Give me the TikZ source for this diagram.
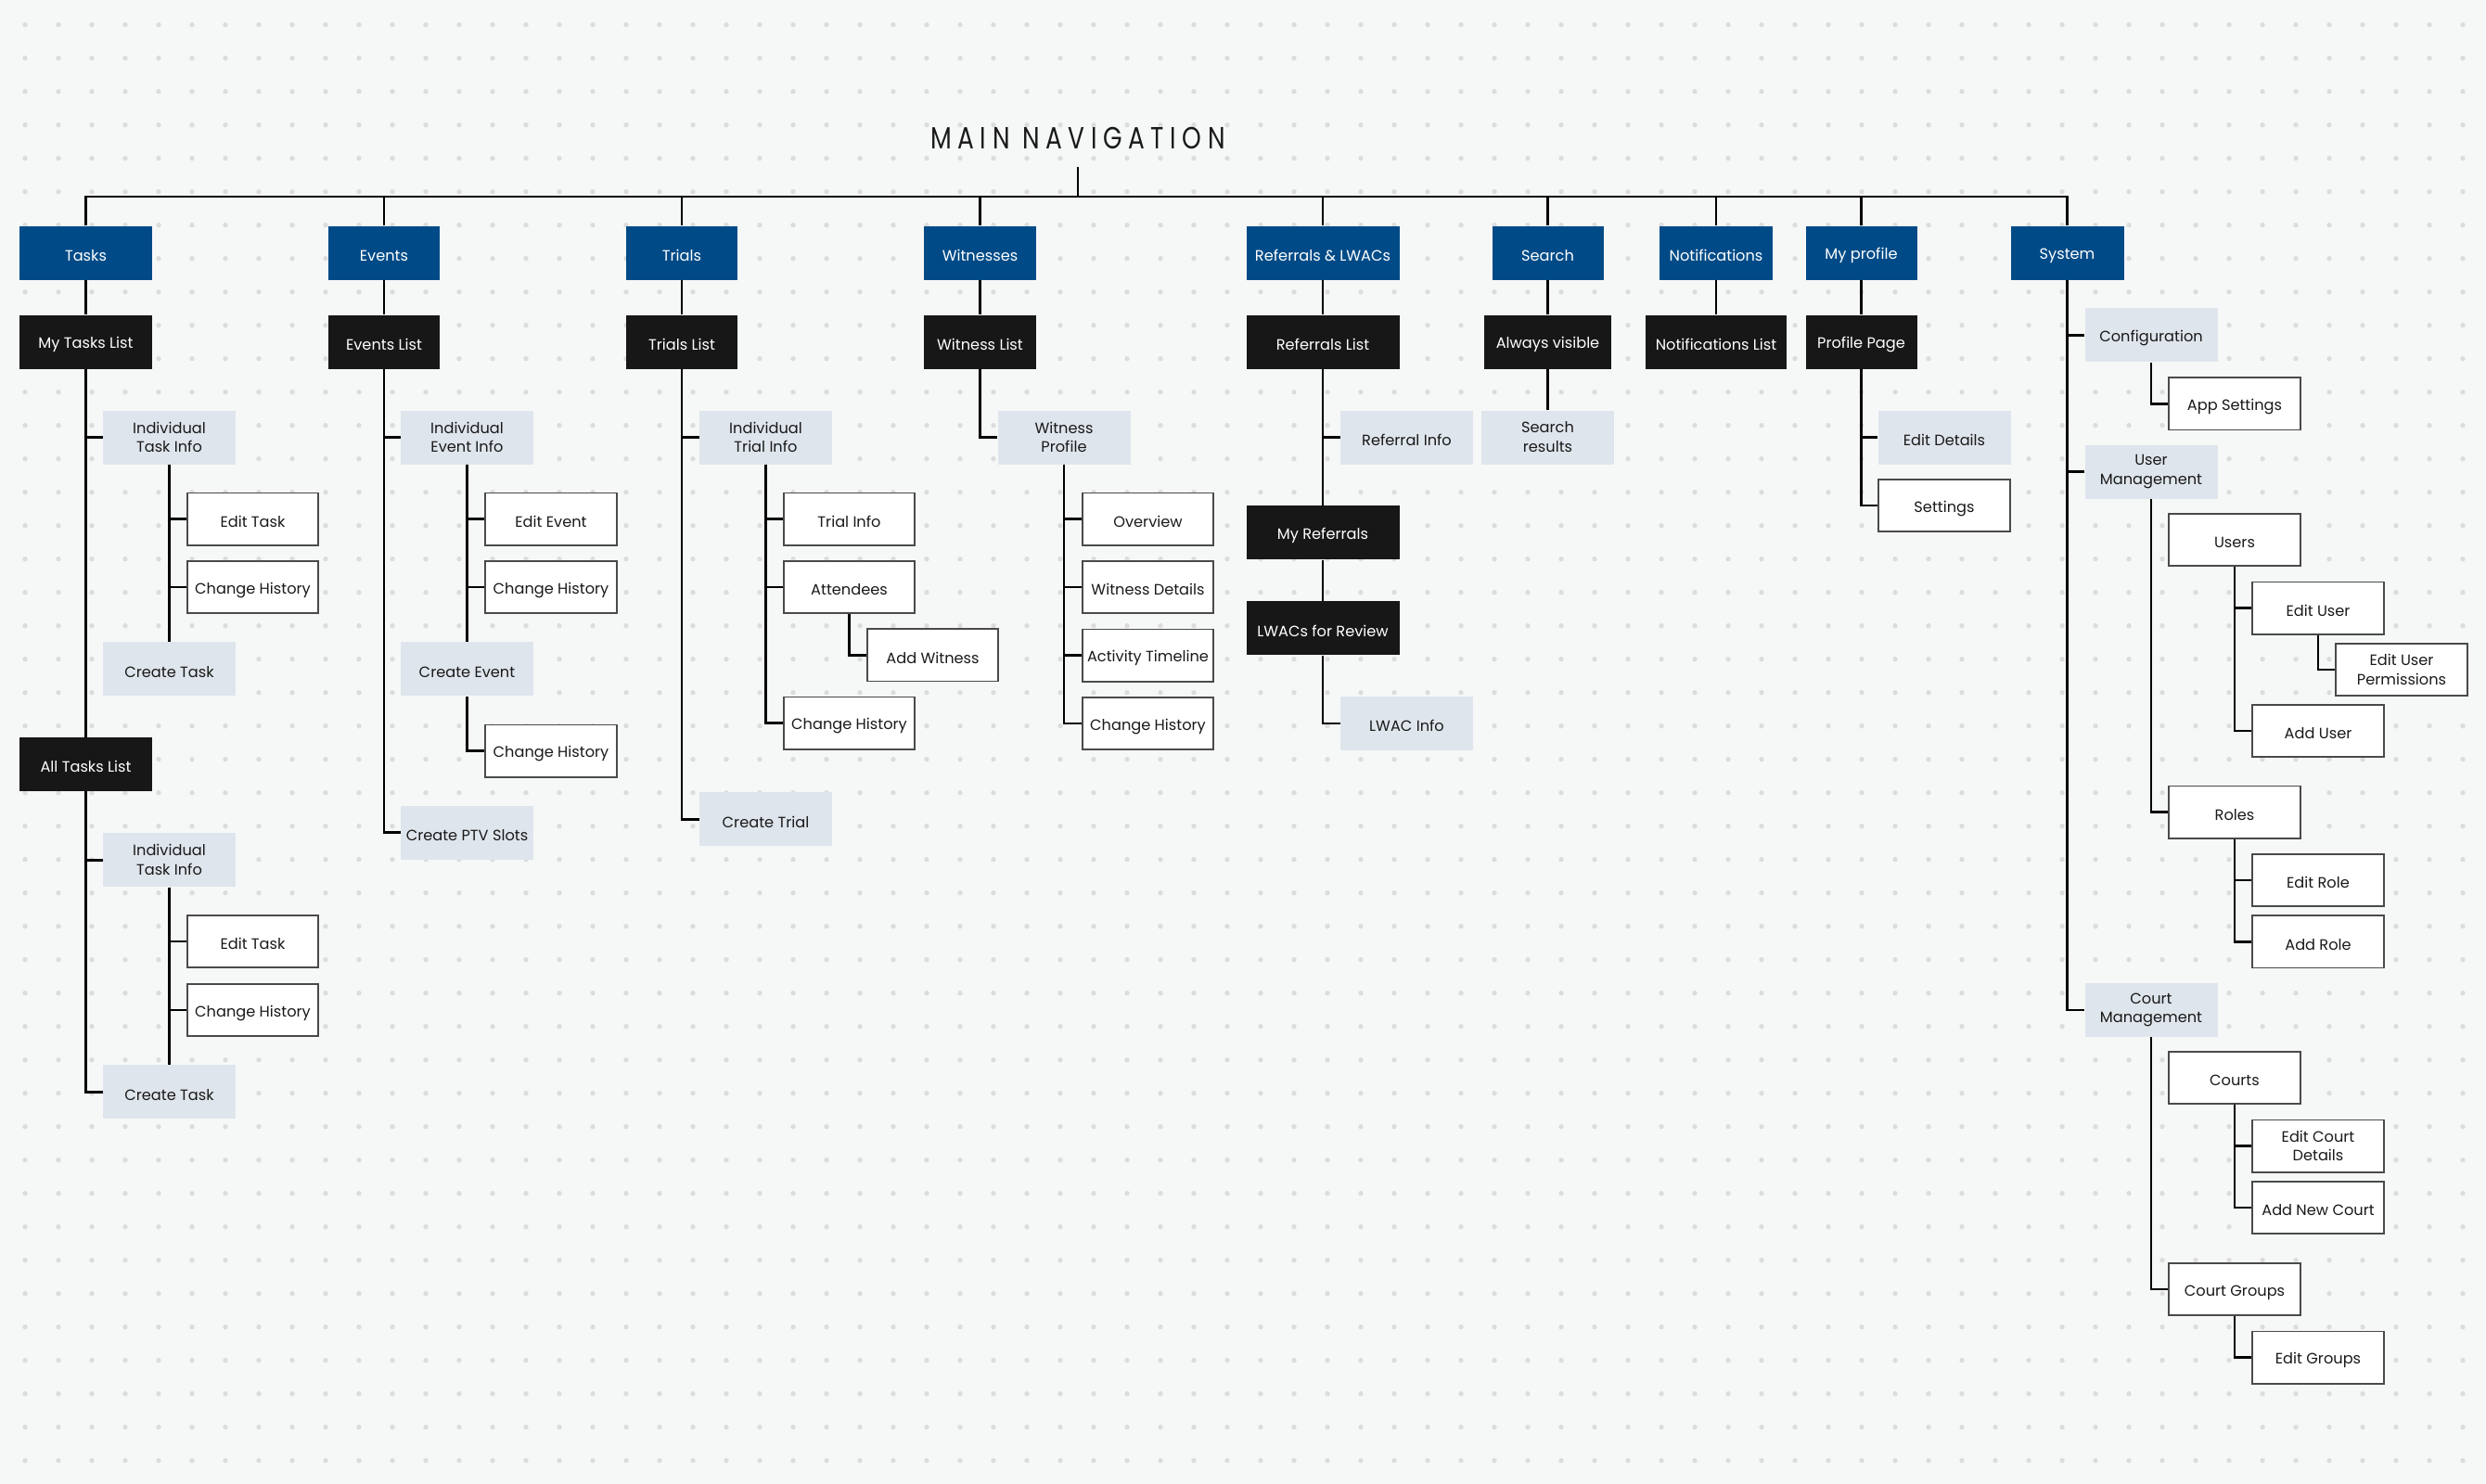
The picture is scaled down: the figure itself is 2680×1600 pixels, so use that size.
\documentclass[tikz,border=0pt]{standalone}
\usepackage{fontspec}
\setmainfont{Poppins}
\newfontfamily\titlefont[LetterSpace=20, FakeStretch=0.8]{Poppins}
\usepackage{tikz}
\definecolor{navBlue}{HTML}{004B87}
\definecolor{navBlack}{HTML}{171717}
\definecolor{navGrey}{HTML}{DFE5EC}
\definecolor{navEdge}{HTML}{4A4A4A}
\definecolor{navInk}{HTML}{1A1A1A}
\definecolor{navDot}{HTML}{DCDCDC}
\definecolor{navPaper}{HTML}{F6F8F8}
\newcommand{\navstrut}{\rule[-0.6pt]{0pt}{19pt}}

\begin{document}
\begin{tikzpicture}[x=1pt, y=-1pt,
  box/.style={minimum height=58pt, inner sep=2pt, align=center, font=\fontsize{16.2}{20.7}\selectfont,
    execute at begin node=\navstrut, execute at end node=\navstrut},
  head/.style={box, fill=navBlue, text=white, minimum width=120pt},
  list/.style={box, fill=navBlack, text=white, minimum width=120pt},
  page/.style={box, fill=navGrey, text=navInk, minimum width=143pt},
  leaf/.style={box, fill=white, draw=navEdge, line width=1.6pt, text=navInk, minimum width=141.5pt, minimum height=56.5pt},
  link/.style={line width=2.6pt, black}]
  \useasboundingbox (0,0) rectangle (2680,1600);
  \fill[navPaper] (0,0) rectangle (2680,1600);
  % dotted canvas
  \foreach \i in {0,...,73}
    \foreach \j in {0,...,43}
      \fill[navDot] (27+36*\i, 26.7+36*\j) circle (2.7pt);

  \node[text=navInk, font=\titlefont\fontsize{33}{40}\selectfont] (title) at (1162,149) {MAIN NAVIGATION};
  \coordinate (titleFoot) at (1162,180);
  \coordinate (bar) at (1162,212);

  % top level
  \node[head, minimum width=143pt] (tasks) at (92.5,272.5) {Tasks};
  \node[head] (events) at (414,272.5) {Events};
  \node[head] (trials) at (735,272.5) {Trials};
  \node[head, minimum width=121pt] (witnesses) at (1056.5,272.5) {Witnesses};
  \node[head, minimum width=165pt] (referrals) at (1426,272.5) {Referrals \& LWACs};
  \node[head] (search) at (1668.5,272.5) {Search};
  \node[head, minimum width=122pt] (notifications) at (1850,272.5) {Notifications};
  \node[head] (myProfile) at (2006.5,272.5) {My profile};
  \node[head, minimum width=122pt] (system) at (2228.5,272.5) {System};

  % tasks
  \node[list, minimum width=143pt] (myTasks) at (92.5,368.5) {My Tasks List};
  \node[page] (tInfo) at (182.5,471.5) {Individual\\Task Info};
  \node[leaf] (tEdit) at (272.5,559.7) {Edit Task};
  \node[leaf] (tHist) at (272.5,633) {Change History};
  \node[page] (tCreate) at (182.5,721.3) {Create Task};
  \node[list, minimum width=143pt] (allTasks) at (92.5,824) {All Tasks List};
  \node[page] (aInfo) at (182.5,927.3) {Individual\\Task Info};
  \node[leaf] (aEdit) at (272.5,1015) {Edit Task};
  \node[leaf] (aHist) at (272.5,1089) {Change History};
  \node[page] (aCreate) at (182.5,1177.3) {Create Task};

  % events
  \node[list] (eventsList) at (414,368.5) {Events List};
  \node[page] (eInfo) at (503.5,471.5) {Individual\\Event Info};
  \node[leaf] (eEdit) at (594,559.7) {Edit Event};
  \node[leaf] (eHist) at (594,633) {Change History};
  \node[page] (eCreate) at (503.5,721.3) {Create Event};
  \node[leaf] (eCreateHist) at (594,809.7) {Change History};
  \node[page] (ePTV) at (503.5,897.7) {Create PTV Slots};

  % trials
  \node[list] (trialsList) at (735,368.5) {Trials List};
  \node[page] (trInfo) at (825.5,471.5) {Individual\\Trial Info};
  \node[leaf] (trDetails) at (915.5,559.7) {Trial Info};
  \node[leaf] (trAttend) at (915.5,633) {Attendees};
  \node[leaf] (trWitness) at (1005.5,706.3) {Add Witness};
  \node[leaf] (trHist) at (915.5,779.7) {Change History};
  \node[page] (trCreate) at (825.5,883.3) {Create Trial};

  % witnesses
  \node[list, minimum width=121pt] (witnessList) at (1056.5,368.5) {Witness List};
  \node[page] (wProfile) at (1147,471.5) {Witness\\Profile};
  \node[leaf] (wOverview) at (1237.5,559.7) {Overview};
  \node[leaf] (wDetails) at (1237.5,633) {Witness Details};
  \node[leaf] (wTimeline) at (1237.5,706.7) {Activity Timeline};
  \node[leaf] (wHist) at (1237.5,780) {Change History};

  % referrals
  \node[list, minimum width=165pt] (referralsList) at (1426,368.5) {Referrals List};
  \node[page] (rInfo) at (1516.5,471.5) {Referral Info};
  \node[list, minimum width=165pt] (myReferrals) at (1426,574.3) {My Referrals};
  \node[list, minimum width=165pt] (lwacs) at (1426,677.3) {LWACs for Review};
  \node[page] (lwacInfo) at (1516.5,780) {LWAC Info};

  % search, notifications, profile
  \node[list, minimum width=137pt] (alwaysVisible) at (1668.5,368.5) {Always visible};
  \node[page] (searchResults) at (1668.5,471.5) {Search\\results};
  \node[list, minimum width=152pt] (notificationsList) at (1850,368.5) {Notifications List};
  \node[list] (profilePage) at (2006.5,368.5) {Profile Page};
  \node[page] (pEdit) at (2096,471.5) {Edit Details};
  \node[leaf] (pSettings) at (2096,545) {Settings};

  % system
  \node[page] (config) at (2319,361.4) {Configuration};
  \node[leaf] (appSettings) at (2409,435.2) {App Settings};
  \node[page] (userMgmt) at (2319,508.7) {User\\Management};
  \node[leaf] (users) at (2409,582) {Users};
  \node[leaf] (editUser) at (2499,655.7) {Edit User};
  \node[leaf] (editPerm) at (2589,722) {Edit User\\Permissions};
  \node[leaf] (addUser) at (2499,788) {Add User};
  \node[leaf] (roles) at (2409,875.7) {Roles};
  \node[leaf] (editRole) at (2499,949) {Edit Role};
  \node[leaf] (addRole) at (2499,1015.3) {Add Role};
  \node[page] (courtMgmt) at (2319,1089) {Court\\Management};
  \node[leaf] (courts) at (2409,1162) {Courts};
  \node[leaf] (editCourt) at (2499,1235.7) {Edit Court\\Details};
  \node[leaf] (addCourt) at (2499,1302) {Add New Court};
  \node[leaf] (courtGroups) at (2409,1390) {Court Groups};
  \node[leaf] (editGroups) at (2499,1463.7) {Edit Groups};

  % connectors
  \begin{scope}[link]
    \draw (titleFoot) -- (bar);
    \draw (tasks.north) |- (bar) -| (system.north);
    \foreach \n in {events, trials, witnesses, referrals, search, notifications, myProfile}
      \draw (\n.north) -- (\n.north |- bar);

    \draw (tasks) -- (myTasks);
    \draw (myTasks) -- (allTasks);
    \draw (myTasks.south) |- (tInfo.west);
    \draw (tInfo.south) |- (tEdit.west);
    \draw (tInfo.south) |- (tHist.west);
    \draw (tInfo) -- (tCreate);
    \draw (allTasks.south) |- (aInfo.west);
    \draw (allTasks.south) |- (aCreate.west);
    \draw (aInfo.south) |- (aEdit.west);
    \draw (aInfo.south) |- (aHist.west);
    \draw (aInfo) -- (aCreate);

    \draw (events) -- (eventsList);
    \draw (eventsList.south) |- (eInfo.west);
    \draw (eventsList.south) |- (ePTV.west);
    \draw (eInfo.south) |- (eEdit.west);
    \draw (eInfo.south) |- (eHist.west);
    \draw (eInfo) -- (eCreate);
    \draw (eCreate.south) |- (eCreateHist.west);

    \draw (trials) -- (trialsList);
    \draw (trialsList.south) |- (trInfo.west);
    \draw (trialsList.south) |- (trCreate.west);
    \foreach \n in {trDetails, trAttend, trHist}
      \draw (trInfo.south) |- (\n.west);
    \draw (trAttend.south) |- (trWitness.west);

    \draw (witnesses) -- (witnessList);
    \draw (witnessList.south) |- (wProfile.west);
    \foreach \n in {wOverview, wDetails, wTimeline, wHist}
      \draw (wProfile.south) |- (\n.west);

    \draw (referrals) -- (referralsList);
    \draw (referralsList.south) |- (rInfo.west);
    \draw (referralsList) -- (myReferrals);
    \draw (myReferrals) -- (lwacs);
    \draw (lwacs.south) |- (lwacInfo.west);

    \draw (search) -- (alwaysVisible);
    \draw (alwaysVisible) -- (searchResults);
    \draw (notifications) -- (notificationsList);
    \draw (myProfile) -- (profilePage);
    \draw (profilePage.south) |- (pEdit.west);
    \draw (profilePage.south) |- (pSettings.west);

    \foreach \n in {config, userMgmt, courtMgmt}
      \draw (system.south) |- (\n.west);
    \draw (config.south) |- (appSettings.west);
    \draw (userMgmt.south) |- (roles.west);
    \draw (users.south) |- (editUser.west);
    \draw (users.south) |- (addUser.west);
    \draw (editUser.south) |- (editPerm.west);
    \draw (roles.south) |- (editRole.west);
    \draw (roles.south) |- (addRole.west);
    \draw (courtMgmt.south) |- (courtGroups.west);
    \draw (courts.south) |- (editCourt.west);
    \draw (courts.south) |- (addCourt.west);
    \draw (courtGroups.south) |- (editGroups.west);
  \end{scope}
\end{tikzpicture}
\end{document}
